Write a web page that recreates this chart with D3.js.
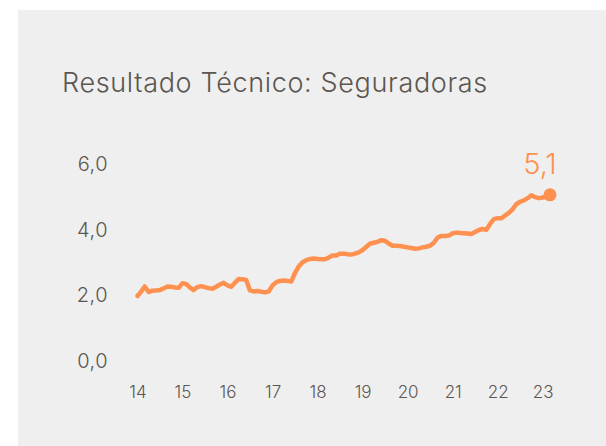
<!DOCTYPE html>
<html>
<head>
<meta charset="utf-8">
<script src="https://cdn.jsdelivr.net/npm/d3@7"></script>
<style>
  body { margin: 0; background: #fff; }
  #chartDiv { position: absolute; left: 18px; top: 10px; width: 588px; height: 436px; background: #efefef; }
  text { font-family: "Inter", "Roboto", sans-serif; }
  .axis path, .axis line { display: none; }
  .axis text { fill: #5b5651; font-weight: 300; }
</style>
</head>
<body>
<div id="chartDiv"></div>
<script>
// monthly values, Jan 2014 .. Mar 2023
const startMonth = new Date(2014, 0, 1);
const values = [
  1.98, 2.12, 2.27, 2.10, 2.14, 2.15, 2.16, 2.21, 2.27, 2.26, 2.24, 2.23,
  2.37, 2.34, 2.24, 2.16, 2.25, 2.28, 2.25, 2.22, 2.20, 2.26, 2.33, 2.38,
  2.30, 2.26, 2.38, 2.50, 2.49, 2.47, 2.15, 2.12, 2.13, 2.11, 2.09, 2.12,
  2.31, 2.40, 2.44, 2.45, 2.44, 2.42, 2.68, 2.88, 3.01, 3.07, 3.11, 3.12,
  3.11, 3.10, 3.10, 3.15, 3.21, 3.21, 3.27, 3.27, 3.25, 3.24, 3.27, 3.31,
  3.38, 3.48, 3.57, 3.60, 3.63, 3.68, 3.66, 3.58, 3.51, 3.51, 3.50, 3.48,
  3.46, 3.44, 3.42, 3.43, 3.46, 3.48, 3.51, 3.60, 3.76, 3.81, 3.81, 3.82,
  3.89, 3.91, 3.90, 3.89, 3.88, 3.87, 3.93, 3.99, 4.02, 4.00, 4.18, 4.32,
  4.35, 4.35, 4.43, 4.51, 4.62, 4.78, 4.85, 4.89, 4.96, 5.05, 4.99, 4.96,
  4.98, 5.01, 5.06
];
const yTicks = [0, 2, 4, 6];
const xTickYears = [2014, 2015, 2016, 2017, 2018, 2019, 2020, 2021, 2022, 2023];
const title = "Resultado Técnico: Seguradoras";

const data = values.map((v, i) => ({date: d3.timeMonth.offset(startMonth, i), value: v}));

let chartDiv = document.getElementById("chartDiv");
let width = chartDiv.clientWidth;
let height = chartDiv.clientHeight;
const ox = 18, oy = 10; // panel offset in the page

let svg = d3.select(chartDiv).append("svg")
    .attr("width", width)
    .attr("height", height);

const ptBR = d3.formatLocale({decimal: ",", thousands: ".", grouping: [3], currency: ["R$", ""]});
const fmt = ptBR.format(".1f");

let x = d3.scaleTime()
    .domain(d3.extent(data, d => d.date))
    .range([137.5 - ox, 550 - ox]);

let y = d3.scaleLinear()
    .domain([0, 6])
    .range([361 - oy, 164 - oy]);

svg.append("text")
    .attr("x", 62 - ox)
    .attr("y", 92 - oy)
    .style("font-size", "27px")
    .style("font-weight", 300)
    .style("letter-spacing", "0.65px")
    .style("fill", "#5b5651")
    .text(title);

svg.append("g")
    .attr("class", "axis yAxis")
    .attr("transform", `translate(${108 - ox}, 0)`)
    .call(d3.axisLeft(y).tickValues(yTicks).tickSize(0).tickPadding(0).tickFormat(fmt))
    .selectAll("text")
    .style("font-size", "20px")
    .style("letter-spacing", "0.5px");

svg.append("g")
    .attr("class", "axis xAxis")
    .attr("transform", `translate(0, ${386 - oy})`)
    .call(d3.axisBottom(x)
        .tickValues(xTickYears.map(yr => new Date(yr, 0, 1)))
        .tickSize(0).tickPadding(0)
        .tickFormat(d3.timeFormat("%y")))
    .selectAll("text")
    .style("font-size", "17px");

const orange = "#ff9150";

svg.append("path")
    .datum(data)
    .attr("fill", "none")
    .attr("stroke", orange)
    .attr("stroke-width", 4.5)
    .attr("stroke-linejoin", "round")
    .attr("stroke-linecap", "round")
    .attr("d", d3.line().x(d => x(d.date)).y(d => y(d.value)));

const last = data[data.length - 1];
svg.append("circle")
    .attr("cx", x(last.date))
    .attr("cy", y(last.value))
    .attr("r", 6.5)
    .attr("fill", orange);

svg.append("text")
    .attr("x", x(last.date) - 10)
    .attr("y", y(last.value) - 21)
    .style("text-anchor", "middle")
    .style("font-size", "29px")
    .style("font-weight", 300)
    .style("fill", orange)
    .text(fmt(last.value));
</script>
</body>
</html>
